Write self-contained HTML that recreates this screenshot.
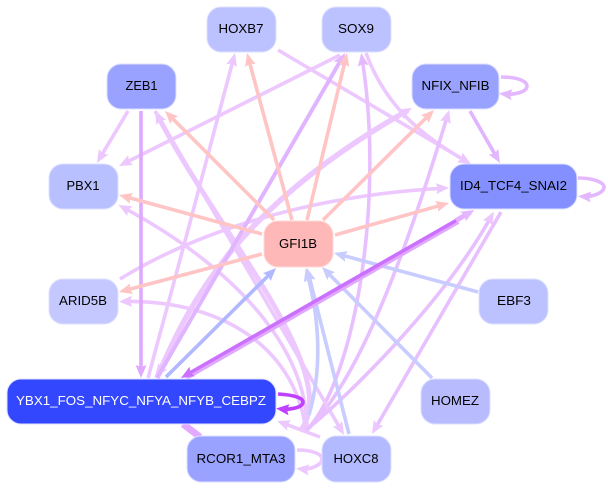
<!DOCTYPE html>
<html><head><meta charset="utf-8"><style>
html,body{margin:0;padding:0;background:#fff;width:608px;height:489px;overflow:hidden}
svg{display:block}
text{font-family:"Liberation Sans",sans-serif;font-size:13px;fill:#000;text-anchor:middle}
path{fill:none}
</style></head><body>
<svg width="608" height="489" viewBox="0 0 608 489" xmlns="http://www.w3.org/2000/svg">
<defs>
<marker id="l" markerUnits="userSpaceOnUse" markerWidth="15" markerHeight="13" refX="8" refY="6.5" orient="auto"><path d="M0,1 L13,6.5 L0,12 L2,6.5Z" style="fill:#ecc8ff;stroke:none"/></marker>
<marker id="m" markerUnits="userSpaceOnUse" markerWidth="15" markerHeight="13" refX="8" refY="6.5" orient="auto"><path d="M0,1 L13,6.5 L0,12 L2,6.5Z" style="fill:#e0a8ff;stroke:none"/></marker>
<marker id="n" markerUnits="userSpaceOnUse" markerWidth="15" markerHeight="13" refX="8" refY="6.5" orient="auto"><path d="M0,1 L13,6.5 L0,12 L2,6.5Z" style="fill:#e4b8ff;stroke:none"/></marker>
<marker id="p" markerUnits="userSpaceOnUse" markerWidth="15" markerHeight="13" refX="8" refY="6.5" orient="auto"><path d="M0,1 L13,6.5 L0,12 L2,6.5Z" style="fill:#ffc4c4;stroke:none"/></marker>
<marker id="b" markerUnits="userSpaceOnUse" markerWidth="15" markerHeight="13" refX="8" refY="6.5" orient="auto"><path d="M0,1 L13,6.5 L0,12 L2,6.5Z" style="fill:#b0b8ff;stroke:none"/></marker>
<marker id="c" markerUnits="userSpaceOnUse" markerWidth="15" markerHeight="13" refX="8" refY="6.5" orient="auto"><path d="M0,1 L13,6.5 L0,12 L2,6.5Z" style="fill:#c8ccff;stroke:none"/></marker>
<marker id="d" markerUnits="userSpaceOnUse" markerWidth="15" markerHeight="13" refX="8" refY="6.5" orient="auto"><path d="M0,1 L13,6.5 L0,12 L2,6.5Z" style="fill:#cc70ff;stroke:none"/></marker>
<marker id="e" markerUnits="userSpaceOnUse" markerWidth="15" markerHeight="13" refX="8" refY="6.5" orient="auto"><path d="M0,1 L13,6.5 L0,12 L2,6.5Z" style="fill:#c040ff;stroke:none"/></marker>
</defs>

<g stroke="#ecc8ff" stroke-width="3.6">
<path d="M128,111 L99.5,158.7" marker-end="url(#l)"/>
<path d="M340,55 L123.5,163.7" marker-end="url(#l)"/>
<path d="M148,378 L184,245 L233.7,57.8" marker-end="url(#l)"/>
<path d="M120,279 C190,236 300,196 444,188.2" marker-end="url(#l)"/>
<path d="M278,50 L466.7,161.5" marker-end="url(#l)"/>
<path d="M366,53 C385,105 420,135 466.7,161.5" marker-end="url(#l)"/>
<path d="M306,431 C350,390 395,290 447.7,114.8" stroke="#e8c0ff" marker-end="url(#l)"/>
<path d="M306,431 C355,380 385,200 362,58" stroke="#e8c0ff" marker-end="url(#n)"/>
<path d="M155,111 L341.5,430.7" marker-end="url(#l)"/>
<path d="M307,431 C308,345 230,265 122.8,207.3" marker-end="url(#l)"/>
<path d="M306,431 C296,350 225,300 124,301.5" marker-end="url(#l)"/>
<path d="M300,431 C345,375 220,235 157.5,115.3" stroke-width="5" marker-end="url(#l)"/>
<path d="M306,430 C350,395 445,300 491.5,216" stroke="#e8c0ff" marker-end="url(#l)"/>
<path d="M501,212 L374.5,429.7" stroke="#e8c0ff" marker-end="url(#l)"/>
<path d="M320,437 L281.7,422.7" marker-end="url(#l)"/>
<path d="M157,378 C190,300 240,205 407.6,110.5" stroke-width="5.5" marker-end="url(#l)"/>
<path d="M166,362 L158,373" stroke-width="5" marker-end="url(#l)"/>
</g>
<g stroke="#e0a8ff">
<path d="M141,111 L141,373" stroke-width="3.6" marker-end="url(#m)"/>
<path d="M157,378 L342.5,57.3" stroke="#e0b4ff" stroke-width="4" marker-end="url(#n)"/>
<path d="M470,111 L497.5,158.7" stroke="#e0b4ff" stroke-width="3.6" marker-end="url(#n)"/>
<path d="M183,424 L200,437" stroke-width="7" stroke="#e4a8ff"/>
<path d="M501,77 C520,77 527,82 527,86 C527,92 515,95 504,94" stroke="#e4b8ff" stroke-width="3.6" marker-end="url(#n)"/>
<path d="M578,178 C595,178 604,183 604,187 C604,193 592,197 583,196.5" stroke="#e4b8ff" stroke-width="3.6" marker-end="url(#n)"/>
<path d="M297,450 C312,450 322,454 322,459 C322,465 310,470 301,469" stroke="#ecc8ff" stroke-width="3.6" marker-end="url(#l)"/>
</g>
<g stroke="#ffc4c4" stroke-width="3.6">
<path d="M274,220 L168.5,114.5" marker-end="url(#p)"/>
<path d="M292,220 L248.3,57.8" marker-end="url(#p)"/>
<path d="M262,234 L123.8,196.3" marker-end="url(#p)"/>
<path d="M262,254 L123.8,290.7" marker-end="url(#p)"/>
<path d="M307,220 L345.8,57.9" marker-end="url(#p)"/>
<path d="M323,220 L430.5,113.5" marker-end="url(#p)"/>
<path d="M335,235 L444.2,204.3" marker-end="url(#p)"/>
</g>
<g stroke-width="3.6">
<path d="M166,377 L272.5,271.5" stroke="#b0b8ff" marker-end="url(#b)"/>
<path d="M478,292 L338.8,254.3" stroke="#c8ccff" marker-end="url(#c)"/>
<path d="M432,378 L325.5,270.5" stroke="#c8ccff" marker-end="url(#c)"/>
<path d="M349,434 L308.2,272.8" stroke="#c8ccff" marker-end="url(#c)"/>
<path d="M309,415 C322,370 320,320 307,273" stroke="#c8ccff" marker-end="url(#c)"/>
<path d="M458,221 L186,377" stroke="#e0a8ff" stroke-width="6"/>
<path d="M456,220.5 L185.3,375.5" stroke="#cc70ff" stroke-width="3.6" marker-end="url(#d)"/>
<path d="M456,220.5 L470,212.5" stroke="#e4b0ff" stroke-width="5" marker-end="url(#n)"/>
<path d="M278,394 C295,395 303,398 303,402 C303,407 292,410 281,409" stroke="#c040ff" stroke-width="3.6" marker-end="url(#e)"/>
</g>

<g stroke="#dde0ff" stroke-width="1">
<rect x="207" y="7" width="69" height="45" rx="14" fill="#bcc2ff"/>
<rect x="322" y="7" width="69" height="45" rx="14" fill="#bcc2ff"/>
<rect x="107" y="64" width="69" height="45" rx="14" fill="#99a2ff"/>
<rect x="412" y="64" width="87" height="45" rx="14" fill="#99a2ff"/>
<rect x="49" y="164" width="69" height="45" rx="14" fill="#b8c0ff"/>
<rect x="450" y="164" width="127" height="45" rx="14" fill="#8490ff"/>
<rect x="264" y="221" width="69" height="46" rx="14" fill="#ffb8b8" stroke="#ffd8d8"/>
<rect x="49" y="279" width="69" height="45" rx="14" fill="#c4c8ff"/>
<rect x="479" y="279" width="69" height="45" rx="14" fill="#bcc2ff"/>
<rect x="7" y="379" width="269" height="45" rx="14" fill="#3347ff"/>
<rect x="421" y="379" width="69" height="45" rx="14" fill="#b8bcff"/>
<rect x="187" y="436" width="108" height="46" rx="14" fill="#99a2ff"/>
<rect x="322" y="436" width="69" height="46" rx="14" fill="#b4baff"/>
</g>

<text x="241" y="33" textLength="45" lengthAdjust="spacingAndGlyphs">HOXB7</text>
<text x="356" y="33" textLength="36" lengthAdjust="spacingAndGlyphs">SOX9</text>
<text x="141.5" y="90" textLength="32" lengthAdjust="spacingAndGlyphs">ZEB1</text>
<text x="455.5" y="90" textLength="68" lengthAdjust="spacingAndGlyphs">NFIX_NFIB</text>
<text x="83" y="190" textLength="33" lengthAdjust="spacingAndGlyphs">PBX1</text>
<text x="513.5" y="190" textLength="107" lengthAdjust="spacingAndGlyphs">ID4_TCF4_SNAI2</text>
<text x="298" y="248" textLength="38" lengthAdjust="spacingAndGlyphs">GFI1B</text>
<text x="83" y="305" textLength="48" lengthAdjust="spacingAndGlyphs">ARID5B</text>
<text x="514" y="305" textLength="34" lengthAdjust="spacingAndGlyphs">EBF3</text>
<text x="141" y="405" textLength="250" lengthAdjust="spacingAndGlyphs" style="fill:#fff">YBX1_FOS_NFYC_NFYA_NFYB_CEBPZ</text>
<text x="455" y="405" textLength="48" lengthAdjust="spacingAndGlyphs">HOMEZ</text>
<text x="241" y="463" textLength="89" lengthAdjust="spacingAndGlyphs">RCOR1_MTA3</text>
<text x="356" y="463" textLength="45" lengthAdjust="spacingAndGlyphs">HOXC8</text>
</svg>
</body></html>
